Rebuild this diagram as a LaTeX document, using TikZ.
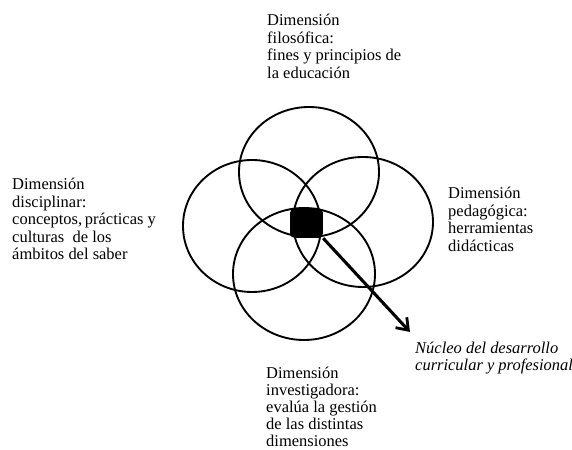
\documentclass[tikz,border=0pt]{standalone}
\usepackage{fontspec}
\setmainfont{Liberation Serif}
\usetikzlibrary{arrows.meta,positioning}

\begin{document}
\begin{tikzpicture}[x=0.85pt, y=-0.85pt]

% Styles
\tikzset{
    ring/.style={line width=1.6pt},
    dimtext/.style={anchor=north west, inner sep=0pt, align=left,
        font=\fontsize{14pt}{14.9pt}\selectfont},
}

\useasboundingbox (0,0) rectangle (572,450);

% Four dimensions
\draw[ring] (309,172) ellipse [x radius=70, y radius=65];
\draw[ring] (252,226) ellipse [x radius=69, y radius=66];
\draw[ring] (363,222) ellipse [x radius=70, y radius=65];
\draw[ring] (304,274) ellipse [x radius=71, y radius=66];

% Core
\node[fill=black, rounded corners=4pt, minimum width=28pt, minimum height=25.5pt,
    inner sep=0pt] (core) at (306.5,223) {};

% Labels
\node[dimtext] (filos) at (267,14) {Dimensión\\filosófica:\\fines y principios de\\la educación};
\node[dimtext] (discip) at (12,178) {Dimensión\\disciplinar:\\conceptos,\,prácticas y\\culturas \ de los\\ámbitos del saber};
\node[dimtext] (pedag) at (448,187) {Dimensión\\pedagógica:\\herramientas\\didácticas};
\node[dimtext, font=\fontsize{14pt}{14.4pt}\selectfont] (invest) at (266,367)
    {Dimensión\\investigadora:\\evalúa la gestión\\de las distintas\\dimensiones};
\node[dimtext, font=\fontsize{14pt}{14.4pt}\selectfont\itshape] (nucleo) at (415,342)
    {Núcleo del desarrollo\\curricular y profesional};

% Arrow to the core label
\coordinate (tip) at (410,332);
\draw[line width=2.6pt, -{Straight Barb[length=9pt, width=13pt, line width=2.4pt]}]
    (core.south east) -- (tip);

\end{tikzpicture}
\end{document}
